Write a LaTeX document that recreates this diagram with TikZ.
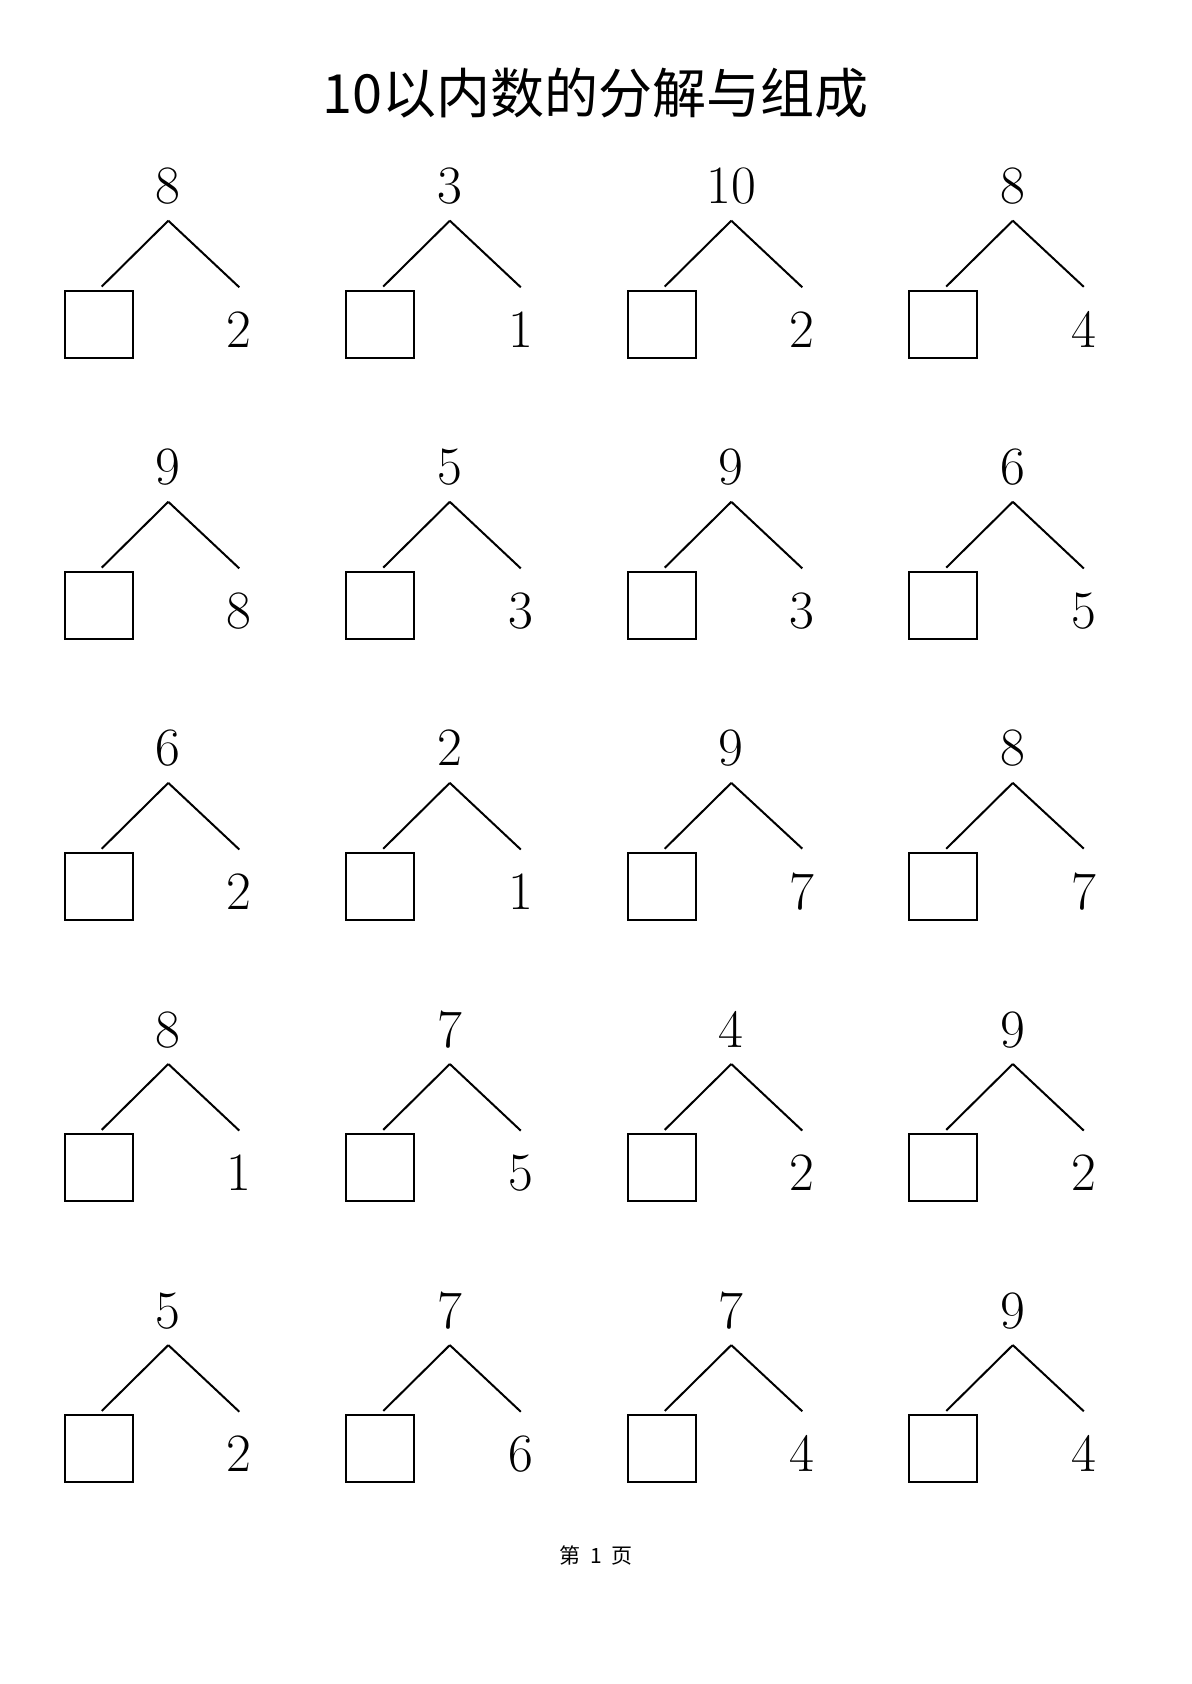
\documentclass[tikz,border=0pt]{standalone}
\usepackage{fontspec}
\newfontfamily\cjk{Noto Sans CJK SC}
\tikzset{
  topnum/.style={anchor=base, inner sep=0pt, font=\fontsize{27}{32}\selectfont},
  rightnum/.style={anchor=base, inner xsep=0pt, inner ysep=12pt, font=\fontsize{27}{32}\selectfont},
  answerbox/.style={draw, line width=1.05pt, minimum width=34pt, minimum height=33.5pt, inner sep=0pt},
  branch/.style={line width=1pt},
  leftbranch/.style={branch, shorten >=2.2pt},
  titletext/.style={font=\cjk\fontsize{27}{32}\selectfont, inner sep=0pt},
  footertext/.style={font=\cjk\fontsize{10.5}{12}\selectfont, inner sep=0pt}
}
\begin{document}
\begin{tikzpicture}[x=0.5pt,y=-0.5pt]
\useasboundingbox (0,0) rectangle (1191,1684);
\node[titletext] (title) at (595.5,93) {10以内数的分解与组成};
\foreach \i/\j/\t/\r in {
  0/0/8/2, 1/0/3/1, 2/0/10/2, 3/0/8/4,
  0/1/9/8, 1/1/5/3, 2/1/9/3, 3/1/6/5,
  0/2/6/2, 1/2/2/1, 2/2/9/7, 3/2/8/7,
  0/3/8/1, 1/3/7/5, 2/3/4/2, 3/3/9/2,
  0/4/5/2, 1/4/7/6, 2/4/7/4, 3/4/9/4} {
  \pgfmathsetmacro\ax{168.3+281.5*\i}
  \pgfmathsetmacro\ay{220.7+281.1*\j}
  \coordinate (a\i\j) at (\ax,\ay);
  \node[topnum] (t\i\j) at (\ax,\ay-17) {\t};
  \node[answerbox] (b\i\j) at (\ax-69.7,\ay+103.5) {};
  \node[rightnum] (r\i\j) at (\ax+71,\ay+126.7) {\r};
  \draw[leftbranch] (a\i\j) -- (b\i\j.north);
  \draw[branch] (a\i\j) -- (r\i\j.north);
}
\node[footertext] (footer) at (596,1555) {第\hspace{0.45em}1\hspace{0.45em}页};
\end{tikzpicture}
\end{document}
